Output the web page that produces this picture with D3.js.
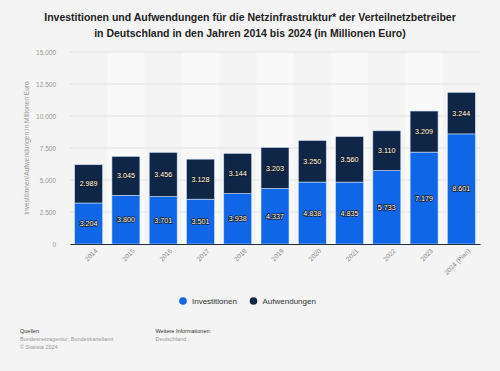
<!DOCTYPE html>
<html>
<head>
<meta charset="utf-8">
<script src="https://cdn.jsdelivr.net/npm/d3@7"></script>
<style>
  body { margin: 0; background: #f4f4f4; }
  svg { display: block; font-family: "Liberation Sans", Arial, sans-serif; }
</style>
</head>
<body>
<script>
// data
var years = ["2014", "2015", "2016", "2017", "2018", "2019", "2020", "2021", "2022", "2023", "2024 (Plan)"];
var investitionen = [3204, 3800, 3701, 3501, 3938, 4337, 4838, 4835, 5733, 7179, 8601];
var aufwendungen = [2989, 3045, 3456, 3128, 3144, 3203, 3250, 3560, 3110, 3209, 3244];
var yTicks = [0, 2500, 5000, 7500, 10000, 12500, 15000];
var seriesNames = ["Investitionen", "Aufwendungen"];
var seriesColors = ["#0f66e6", "#0f2647"];

var W = 500, H = 371;
var margin = { top: 52, right: 20, bottom: 127, left: 70 };
var width = W - margin.left - margin.right,
    height = H - margin.top - margin.bottom;

var fmt = function(v) { return d3.format(",")(v).replace(/,/g, "."); };

var svg = d3.select("body").append("svg")
    .attr("width", W)
    .attr("height", H);

svg.append("rect").attr("width", W).attr("height", H).attr("fill", "#f4f4f4");

// title
var title = svg.append("text")
    .attr("x", W / 2)
    .attr("text-anchor", "middle")
    .attr("font-size", "10.5px")
    .attr("font-weight", "bold")
    .attr("fill", "#222");
title.append("tspan").attr("x", W / 2).attr("y", 21)
    .text("Investitionen und Aufwendungen für die Netzinfrastruktur* der Verteilnetzbetreiber");
title.append("tspan").attr("x", W / 2).attr("y", 37)
    .text("in Deutschland in den Jahren 2014 bis 2024 (in Millionen Euro)");

var g = svg.append("g")
    .attr("transform", "translate(" + margin.left + "," + margin.top + ")");

var x = d3.scaleBand().domain(years).range([0, width]).paddingInner(0.25).paddingOuter(0.125);
var y = d3.scaleLinear().domain([0, 15000]).range([height, 0]);

// alternating column bands
g.selectAll(".band")
    .data(years.filter(function(d, i) { return i % 2 === 1; }))
    .enter().append("rect")
    .attr("x", function(d) { return x(d) - x.step() * x.paddingInner() / 2; })
    .attr("y", 0)
    .attr("width", x.step())
    .attr("height", height)
    .attr("fill", "#f9f9f9");

// grid
g.selectAll(".grid")
    .data(yTicks.slice(1))
    .enter().append("line")
    .attr("x1", 0).attr("x2", width)
    .attr("y1", function(d) { return y(d); })
    .attr("y2", function(d) { return y(d); })
    .attr("stroke", "#e2e2e2")
    .attr("stroke-width", 1);

// y axis
var yAxis = g.append("g")
    .call(d3.axisLeft(y).tickValues(yTicks).tickSize(0).tickPadding(14).tickFormat(fmt));
yAxis.select(".domain").remove();
yAxis.selectAll("text").attr("fill", "#999").attr("font-size", "6.5px").attr("font-family", "Liberation Sans, Arial, sans-serif");

svg.append("text")
    .attr("transform", "translate(29," + (margin.top + height / 2) + ") rotate(-90)")
    .attr("text-anchor", "middle")
    .attr("font-size", "6.6px")
    .attr("fill", "#999")
    .text("Investitionen/Aufwendungen in Millionen Euro");

// stacked bars
var table = years.map(function(d, i) {
    return { year: d, Investitionen: investitionen[i], Aufwendungen: aufwendungen[i] };
});
var stack = d3.stack().keys(seriesNames)(table);

var layers = g.selectAll(".layer")
    .data(stack)
    .enter().append("g")
    .attr("fill", function(d, i) { return seriesColors[i]; });

layers.selectAll("rect")
    .data(function(d) { return d; })
    .enter().append("rect")
    .attr("x", function(d) { return x(d.data.year); })
    .attr("y", function(d) { return y(d[1]); })
    .attr("width", x.bandwidth())
    .attr("height", function(d) { return y(d[0]) - y(d[1]); })
    .attr("stroke", "#cfe0f7")
    .attr("stroke-width", 0.6);

layers.selectAll("text")
    .data(function(d) { return d; })
    .enter().append("text")
    .attr("x", function(d) { return x(d.data.year) + x.bandwidth() / 2; })
    .attr("y", function(d) { return (y(d[0]) + y(d[1])) / 2; })
    .attr("dy", "0.35em")
    .attr("text-anchor", "middle")
    .attr("font-size", "7.2px")
    .attr("fill", "#fff")
    .attr("stroke", "#1a1a1a")
    .attr("stroke-width", 1.5)
    .attr("paint-order", "stroke")
    .attr("stroke-linejoin", "round")
    .text(function(d) { return fmt(d[1] - d[0]); });

// x axis
var xAxis = g.append("g")
    .attr("transform", "translate(0," + height + ")")
    .call(d3.axisBottom(x).tickSize(0).tickPadding(6));
xAxis.select(".domain").attr("stroke", "#1f2d44").attr("stroke-width", 1);
xAxis.selectAll("text")
    .attr("font-size", "6.5px")
    .attr("fill", "#888")
    .attr("font-family", "Liberation Sans, Arial, sans-serif")
    .attr("text-anchor", "end")
    .attr("dx", "0.2em")
    .attr("dy", "0.9em")
    .attr("transform", "rotate(-45)");

// legend
var legend = svg.append("g").attr("transform", "translate(0,301)");
var legendX = [183, 253.5];
seriesNames.forEach(function(name, i) {
    legend.append("circle")
        .attr("cx", legendX[i]).attr("cy", 0).attr("r", 3.8)
        .attr("fill", seriesColors[i]);
    legend.append("text")
        .attr("x", legendX[i] + 9).attr("y", 0).attr("dy", "0.35em")
        .attr("font-size", "8px")
        .attr("fill", "#333")
        .text(name);
});

// footer
var footer = svg.append("g").attr("font-size", "5.5px");
footer.append("text").attr("x", 20).attr("y", 333).attr("fill", "#333").text("Quellen");
footer.append("text").attr("x", 20).attr("y", 341).attr("fill", "#999").text("Bundesnetzagentur; Bundeskartellamt");
footer.append("text").attr("x", 20).attr("y", 349).attr("fill", "#999").text("© Statista 2024");
footer.append("text").attr("x", 155.5).attr("y", 333).attr("fill", "#333").text("Weitere Informationen:");
footer.append("text").attr("x", 155.5).attr("y", 341).attr("fill", "#999").text("Deutschland");
</script>
</body>
</html>
